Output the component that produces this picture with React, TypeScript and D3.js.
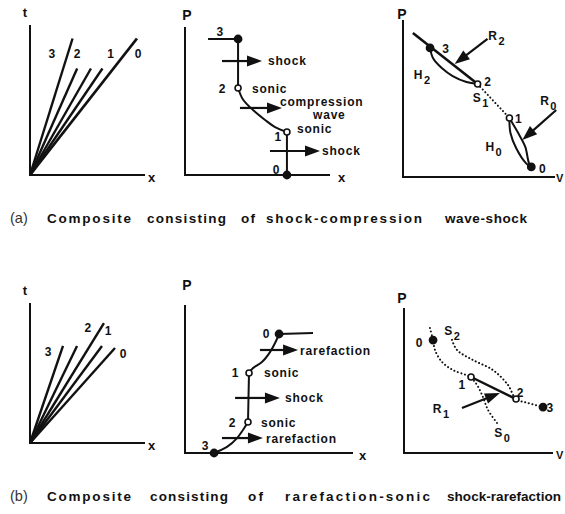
import React from 'react';
import * as d3 from 'd3';

// Panel frames (pixel boxes of each axis pair); data below is in 0-100 panel units
const FRAMES = {
  a1: { left: 30, right: 145, bottom: 175, top: 25 },
  a2: { left: 185, right: 330, bottom: 175, top: 27 },
  a3: { left: 403, right: 555, bottom: 177, top: 20 },
  b1: { left: 30, right: 145, bottom: 443, top: 303 },
  b2: { left: 185, right: 353, bottom: 453, top: 305 },
  b3: { left: 404, right: 553, bottom: 453, top: 308 },
};

type Pt = [number, number];
type Lbl = { x: number; y: number; text: string; sub?: string; anchor?: string };
type Dot = { x: number; y: number; filled: boolean };
type Arr = { x1: number; y1: number; x2: number; y2: number };

// (a) x-t fan
const A1_FAN: Pt[] = [[37, 91], [41, 71], [53, 71], [63, 71], [93, 91]];
const A1_LABELS: Lbl[] = [
  { x: 19, y: 81, text: '3' }, { x: 41, y: 81, text: '2' },
  { x: 70, y: 81, text: '1' }, { x: 94, y: 81, text: '0' },
];

// (a) P-x profile
const A2_TOP: Pt[] = [[15.9, 91.9], [36.6, 91.9], [36.6, 58.8]];
const A2_WAVE: Pt[] = [[36.6, 58.8], [40, 51], [46.9, 43.9], [55.2, 37.2], [62.1, 32.4], [70.3, 29.1]];
const A2_BOTTOM: Pt[] = [[70.3, 29.1], [70.3, 0]];
const A2_DOTS: Dot[] = [
  { x: 36.6, y: 91.9, filled: true }, { x: 36.6, y: 58.8, filled: false },
  { x: 70.3, y: 29.1, filled: false }, { x: 70.3, y: 0, filled: true },
];
const A2_ARROWS: Arr[] = [
  { x1: 25.5, y1: 77, x2: 53.1, y2: 77 },
  { x1: 37.9, y1: 45.3, x2: 66.9, y2: 45.3 },
  { x1: 58.6, y1: 16.2, x2: 93.1, y2: 16.2 },
];
const A2_LABELS: Lbl[] = [
  { x: 24.1, y: 96.6, text: '3' }, { x: 25.5, y: 58.1, text: '2' },
  { x: 46.2, y: 58.1, text: 'sonic', anchor: 'start' },
  { x: 57.2, y: 77, text: 'shock', anchor: 'start' },
  { x: 65.5, y: 49.3, text: 'compression', anchor: 'start' },
  { x: 88.3, y: 40.5, text: 'wave', anchor: 'start' },
  { x: 64.1, y: 25.7, text: '1' },
  { x: 77.2, y: 31.1, text: 'sonic', anchor: 'start' },
  { x: 94.5, y: 16.2, text: 'shock', anchor: 'start' },
  { x: 62.8, y: 3.2, text: '0' },
];

// (a) P-V plane
const A3_R2: Pt[] = [[6.5, 91.7], [49.1, 59.2]];
const A3_H2: Pt[] = [[17.8, 82.2], [19.7, 75.8], [25.5, 69.4], [32.7, 64.3], [41.8, 60.5], [49.1, 59.2]];
const A3_S1: Pt[] = [[49.1, 59.2], [70, 37.6]];
const A3_H0: Pt[] = [[70, 37.6], [70.7, 28], [74.5, 18.3], [81, 8.7], [84.4, 6.4]];
const A3_R0: Pt[] = [[70, 37.6], [75.9, 27.8], [80.4, 19.3], [82.9, 8.7], [84.4, 6.4]];
const A3_DOTS: Dot[] = [
  { x: 17.8, y: 82.2, filled: true }, { x: 49.1, y: 59.2, filled: false },
  { x: 70, y: 37.6, filled: false }, { x: 84.4, y: 6.4, filled: true },
];
const A3_ARROWS: Arr[] = [
  { x1: 55.6, y1: 87.9, x2: 34, y2: 72 },
  { x1: 100.8, y1: 42.7, x2: 78.5, y2: 23.6 },
];
const A3_LABELS: Lbl[] = [
  { x: 61.5, y: 89.8, text: 'R', sub: '2' }, { x: 12.5, y: 65, text: 'H', sub: '2' },
  { x: 28.1, y: 81.5, text: '3' }, { x: 55.6, y: 60.5, text: '2' },
  { x: 51, y: 50.3, text: 'S', sub: '1' }, { x: 75.9, y: 36.9, text: '1' },
  { x: 95.6, y: 48.4, text: 'R', sub: '0' }, { x: 59.6, y: 19.1, text: 'H', sub: '0' },
  { x: 91.6, y: 5.1, text: '0' },
];

// (b) x-t fan
const B1_FAN: Pt[] = [[28.7, 69.3], [40.9, 69.3], [64.3, 85.7], [62.6, 69.3], [73.9, 67.9]];
const B1_LABELS: Lbl[] = [
  { x: 15.7, y: 65, text: '3' }, { x: 50.4, y: 82.1, text: '2' },
  { x: 67.8, y: 80, text: '1' }, { x: 80.9, y: 63.6, text: '0' },
];

// (b) P-x profile
const B2_TOP: Pt[] = [[76.2, 81.1], [56, 80.4]];
const B2_UPPER: Pt[] = [[56, 80.4], [53.6, 74.3], [50.6, 68.2], [45.8, 61.5], [40.5, 57.4], [38.1, 54.1]];
const B2_MID: Pt[] = [[38.1, 54.1], [37.5, 20.9]];
const B2_LOWER: Pt[] = [[37.5, 20.9], [34.5, 15.5], [31, 10.1], [25, 4.1], [17.3, 0]];
const B2_DOTS: Dot[] = [
  { x: 56, y: 80.4, filled: true }, { x: 38.1, y: 54.1, filled: false },
  { x: 37.5, y: 20.9, filled: false }, { x: 17.3, y: 0, filled: true },
];
const B2_ARROWS: Arr[] = [
  { x1: 44.6, y1: 69.6, x2: 67.3, y2: 69.6 },
  { x1: 29.8, y1: 37.2, x2: 56.5, y2: 37.2 },
  { x1: 22, y1: 10.1, x2: 46.4, y2: 10.1 },
];
const B2_LABELS: Lbl[] = [
  { x: 48.2, y: 80.4, text: '0' },
  { x: 68.5, y: 68.9, text: 'rarefaction', anchor: 'start' },
  { x: 29.8, y: 54.1, text: '1' }, { x: 47, y: 54.1, text: 'sonic', anchor: 'start' },
  { x: 59.5, y: 37.2, text: 'shock', anchor: 'start' },
  { x: 28, y: 20.3, text: '2' }, { x: 45.2, y: 20.3, text: 'sonic', anchor: 'start' },
  { x: 48.2, y: 9.5, text: 'rarefaction', anchor: 'start' },
  { x: 11.9, y: 4.7, text: '3' },
];

// (b) P-V plane
const B3_S0: Pt[] = [[17.4, 86.2], [19.5, 77.9], [20.8, 71], [25.5, 62.8], [32.9, 57.2], [44.3, 52.4], [49, 46.9], [53, 38.6], [56.4, 29.7], [62.4, 20.7]];
const B3_S2: Pt[] = [[32.2, 78], [35.6, 71], [46.3, 64.1], [59.7, 57.2], [69.8, 46.9], [75.2, 37.2], [83.2, 34.5], [93.3, 31.7]];
const B3_R1: Pt[] = [[45, 52.4], [75.2, 37.2]];
const B3_DOTS: Dot[] = [
  { x: 19.5, y: 77.9, filled: true }, { x: 45, y: 52.4, filled: false },
  { x: 75.2, y: 37.2, filled: false }, { x: 93.3, y: 31.7, filled: true },
];
const B3_ARROWS: Arr[] = [{ x1: 38.9, y1: 31, x2: 64.4, y2: 41.4 }];
const B3_LABELS: Lbl[] = [
  { x: 32.2, y: 84.4, text: 'S', sub: '2' }, { x: 10.1, y: 75.9, text: '0' },
  { x: 38.9, y: 46.9, text: '1' }, { x: 77.9, y: 41.4, text: '2' },
  { x: 97.8, y: 31, text: '3' }, { x: 24.8, y: 30.3, text: 'R', sub: '1' },
  { x: 65.8, y: 13.8, text: 'S', sub: '0' },
];

// Caption words with their [start, end] spans
const CAPTION_A_TAG = '(a)';
const CAPTION_A_WORDS = ['Composite', 'consisting', 'of', 'shock-compression', 'wave-shock'];
const CAPTION_A_SPANS: Pt[] = [[47, 131], [147, 226], [241, 255], [266, 422], [445, 527]];
const CAPTION_B_TAG = '(b)';
const CAPTION_B_WORDS = ['Composite', 'consisting', 'of', 'rarefaction-sonic', 'shock-rarefaction'];
const CAPTION_B_SPANS: Pt[] = [[47, 131], [150, 228], [248, 263], [285, 430], [447, 561]];

const INK = '#111';
const FONT = '"Liberation Sans", Arial, Helvetica, sans-serif';

const scalesFor = (f: typeof FRAMES.a1) => ({
  x: d3.scaleLinear().domain([0, 100]).range([f.left, f.right]),
  y: d3.scaleLinear().domain([0, 100]).range([f.bottom, f.top]),
});

type Sc = ReturnType<typeof scalesFor>;

const Axes: React.FC<{ f: typeof FRAMES.a1; yl: string; xl: string; ylx: number; yly: number; xlx: number; xly: number }> = ({ f, yl, xl, ylx, yly, xlx, xly }) => (
  <g>
    <path d={`M${f.left},${f.top}V${f.bottom}H${f.right}`} fill="none" stroke={INK} strokeWidth={2} />
    <text x={ylx} y={yly} fontSize={yl === 'P' ? 14 : 13} fontWeight="bold" textAnchor="middle" dominantBaseline="central">{yl}</text>
    <text x={xlx} y={xly} fontSize={xl === 'V' ? 11 : 13} fontWeight="bold" textAnchor="start" dominantBaseline="central">{xl}</text>
  </g>
);

const Curve: React.FC<{ s: Sc; pts: Pt[]; dotted?: boolean; w?: number; smooth?: boolean }> = ({ s, pts, dotted, w = 2, smooth }) => {
  const gen = d3.line<Pt>().x(d => s.x(d[0])).y(d => s.y(d[1])).curve(smooth ? d3.curveCatmullRom : d3.curveLinear);
  return (
    <path d={gen(pts) || ''} fill="none" stroke={INK} strokeWidth={dotted ? 2 : w}
      strokeDasharray={dotted ? '0.1 3.6' : undefined} strokeLinecap={dotted ? 'round' : 'butt'} />
  );
};

const Arrow: React.FC<{ s: Sc; a: Arr }> = ({ s, a }) => {
  const x1 = s.x(a.x1), y1 = s.y(a.y1), x2 = s.x(a.x2), y2 = s.y(a.y2);
  const ang = Math.atan2(y2 - y1, x2 - x1);
  const L = 15, W = 5.5;
  const c = Math.cos(ang), sn = Math.sin(ang);
  const bx = x2 - L * c, by = y2 - L * sn;
  return (
    <g>
      <line x1={x1} y1={y1} x2={bx + 2 * c} y2={by + 2 * sn} stroke={INK} strokeWidth={2.2} />
      <polygon points={`${x2},${y2} ${bx - W * sn},${by + W * c} ${bx + W * sn},${by - W * c}`} fill={INK} />
    </g>
  );
};

const Dots: React.FC<{ s: Sc; dots: Dot[] }> = ({ s, dots }) => (
  <g>
    {dots.map((d, i) => (
      <circle key={i} cx={s.x(d.x)} cy={s.y(d.y)} r={d.filled ? 3.6 : 3} fill={d.filled ? INK : '#fff'} stroke={INK} strokeWidth={1.6} />
    ))}
  </g>
);

const Labels: React.FC<{ s: Sc; labels: Lbl[] }> = ({ s, labels }) => (
  <g>
    {labels.map((l, i) => (
      <text key={i} x={s.x(l.x)} y={s.y(l.y)} fontSize={12} fontWeight="bold" letterSpacing={l.text.length > 1 ? 0.8 : 0}
        textAnchor={l.anchor || 'middle'} dominantBaseline="central">
        {l.text}
        {l.sub && <tspan dx={1.5} dy={5} fontSize={11}>{l.sub}</tspan>}
      </text>
    ))}
  </g>
);

const Caption: React.FC<{ tag: string; words: string[]; spans: Pt[]; y: number }> = ({ tag, words, spans, y }) => (
  <g>
    <text x={10} y={y} fontSize={14.5} fontWeight="normal" fill="#333">{tag}</text>
    {words.map((w, i) => (
      <text key={i} x={spans[i][0]} y={y} fontSize={13.5} fontWeight="bold"
        textLength={spans[i][1] - spans[i][0]} lengthAdjust="spacing">{w}</text>
    ))}
  </g>
);

const App: React.FC = () => {
  const a1 = scalesFor(FRAMES.a1), a2 = scalesFor(FRAMES.a2), a3 = scalesFor(FRAMES.a3);
  const b1 = scalesFor(FRAMES.b1), b2 = scalesFor(FRAMES.b2), b3 = scalesFor(FRAMES.b3);
  return (
    <svg width={565} height={514} style={{ position: 'absolute', left: 0, top: 0, background: '#fff' }} fontFamily={FONT} fill={INK}>
      {/* (a) */}
      <Axes f={FRAMES.a1} yl="t" xl="x" ylx={25} yly={12} xlx={148} xly={177} />
      {A1_FAN.map((p, i) => (
        <line key={i} x1={a1.x(0)} y1={a1.y(0)} x2={a1.x(p[0])} y2={a1.y(p[1])} stroke={INK} strokeWidth={i === 4 ? 2.8 : 2.4} />
      ))}
      <Labels s={a1} labels={A1_LABELS} />

      <Axes f={FRAMES.a2} yl="P" xl="x" ylx={187} yly={15} xlx={338} xly={177} />
      <Curve s={a2} pts={A2_TOP} />
      <Curve s={a2} pts={A2_WAVE} smooth />
      <Curve s={a2} pts={A2_BOTTOM} />
      {A2_ARROWS.map((a, i) => <Arrow key={i} s={a2} a={a} />)}
      <Dots s={a2} dots={A2_DOTS} />
      <Labels s={a2} labels={A2_LABELS} />

      <Axes f={FRAMES.a3} yl="P" xl="V" ylx={402} yly={14} xlx={556} xly={178} />
      <Curve s={a3} pts={A3_R2} w={2.6} />
      <Curve s={a3} pts={A3_H2} smooth />
      <Curve s={a3} pts={A3_S1} dotted />
      <Curve s={a3} pts={A3_H0} smooth />
      <Curve s={a3} pts={A3_R0} smooth />
      {A3_ARROWS.map((a, i) => <Arrow key={i} s={a3} a={a} />)}
      <Dots s={a3} dots={A3_DOTS} />
      <Labels s={a3} labels={A3_LABELS} />

      {/* (b) */}
      <Axes f={FRAMES.b1} yl="t" xl="x" ylx={25} yly={290} xlx={148} xly={445} />
      {B1_FAN.map((p, i) => (
        <line key={i} x1={b1.x(0)} y1={b1.y(0)} x2={b1.x(p[0])} y2={b1.y(p[1])} stroke={INK} strokeWidth={2.4} />
      ))}
      <Labels s={b1} labels={B1_LABELS} />

      <Axes f={FRAMES.b2} yl="P" xl="x" ylx={187} yly={285} xlx={359} xly={455} />
      <Curve s={b2} pts={B2_TOP} />
      <Curve s={b2} pts={B2_UPPER} smooth />
      <Curve s={b2} pts={B2_MID} />
      <Curve s={b2} pts={B2_LOWER} smooth />
      {B2_ARROWS.map((a, i) => <Arrow key={i} s={b2} a={a} />)}
      <Dots s={b2} dots={B2_DOTS} />
      <Labels s={b2} labels={B2_LABELS} />

      <Axes f={FRAMES.b3} yl="P" xl="V" ylx={402} yly={298} xlx={556} xly={455} />
      <Curve s={b3} pts={B3_S0} dotted smooth />
      <Curve s={b3} pts={B3_S2} dotted smooth />
      <Curve s={b3} pts={B3_R1} w={2.4} />
      {B3_ARROWS.map((a, i) => <Arrow key={i} s={b3} a={a} />)}
      <Dots s={b3} dots={B3_DOTS} />
      <Labels s={b3} labels={B3_LABELS} />

      <Caption tag={CAPTION_A_TAG} words={CAPTION_A_WORDS} spans={CAPTION_A_SPANS} y={223} />
      <Caption tag={CAPTION_B_TAG} words={CAPTION_B_WORDS} spans={CAPTION_B_SPANS} y={501} />
    </svg>
  );
};

export default App;
